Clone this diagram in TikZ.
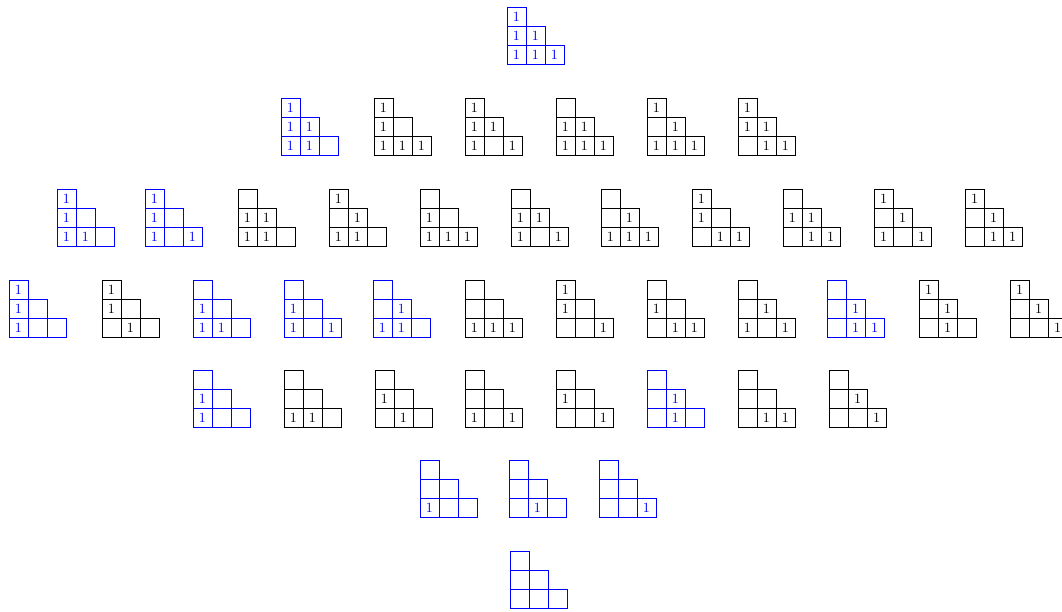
\documentclass[tikz,border=0pt]{standalone}
\usepackage{tikz}
\definecolor{hiblue}{RGB}{0,0,255}
\tikzset{cell/.style={draw, minimum size=0.475cm, inner sep=0pt, line width=0.6pt, font=\normalsize}}

% staircase tableau: left, top, colour, then the six entries (top, middle, bottom rows)
\newcommand{\staircase}[9]{%
  \node[cell, draw=#3, text=#3] at (#1+9.5, #2+9.5) {#4};
  \node[cell, draw=#3, text=#3] at (#1+9.5, #2+28.5) {#5};
  \node[cell, draw=#3, text=#3] at (#1+28.5, #2+28.5) {#6};
  \node[cell, draw=#3, text=#3] at (#1+9.5, #2+47.5) {#7};
  \node[cell, draw=#3, text=#3] at (#1+28.5, #2+47.5) {#8};
  \node[cell, draw=#3, text=#3] at (#1+47.5, #2+47.5) {#9};
}

\begin{document}
\begin{tikzpicture}[x=0.025cm, y=-0.025cm]
  \clip (0,0) rectangle (1062,611);

  % Row 0
  \staircase{507}{7.5}{hiblue}{1}{1}{1}{1}{1}{1}

  % Row 1
  \staircase{281}{98}{hiblue}{1}{1}{1}{1}{1}{}
  \staircase{374}{98}{black}{1}{1}{}{1}{1}{1}
  \staircase{465}{98}{black}{1}{1}{1}{1}{}{1}
  \staircase{556}{98}{black}{}{1}{1}{1}{1}{1}
  \staircase{647}{98}{black}{1}{}{1}{1}{1}{1}
  \staircase{738}{98}{black}{1}{1}{1}{}{1}{1}

  % Row 2
  \staircase{57}{189}{hiblue}{1}{1}{}{1}{1}{}
  \staircase{145}{189}{hiblue}{1}{1}{}{1}{}{1}
  \staircase{238}{189}{black}{}{1}{1}{1}{1}{}
  \staircase{329}{189}{black}{1}{}{1}{1}{1}{}
  \staircase{420}{189}{black}{}{1}{}{1}{1}{1}
  \staircase{511}{189}{black}{}{1}{1}{1}{}{1}
  \staircase{601}{189}{black}{}{}{1}{1}{1}{1}
  \staircase{692}{189}{black}{1}{1}{}{}{1}{1}
  \staircase{783}{189}{black}{}{1}{1}{}{1}{1}
  \staircase{874}{189}{black}{1}{}{1}{1}{}{1}
  \staircase{965}{189}{black}{1}{}{1}{}{1}{1}

  % Row 3
  \staircase{9}{280}{hiblue}{1}{1}{}{1}{}{}
  \staircase{102}{280}{black}{1}{1}{}{}{1}{}
  \staircase{193}{280}{hiblue}{}{1}{}{1}{1}{}
  \staircase{284}{280}{hiblue}{}{1}{}{1}{}{1}
  \staircase{373}{280}{hiblue}{}{}{1}{1}{1}{}
  \staircase{465}{280}{black}{}{}{}{1}{1}{1}
  \staircase{556}{280}{black}{1}{1}{}{}{}{1}
  \staircase{647}{280}{black}{}{1}{}{}{1}{1}
  \staircase{738}{280}{black}{}{}{1}{1}{}{1}
  \staircase{827}{280}{hiblue}{}{}{1}{}{1}{1}
  \staircase{919}{280}{black}{1}{}{1}{}{1}{}
  \staircase{1010}{280}{black}{1}{}{1}{}{}{1}

  % Row 4
  \staircase{193}{370}{hiblue}{}{1}{}{1}{}{}
  \staircase{284}{370}{black}{}{}{}{1}{1}{}
  \staircase{375}{370}{black}{}{1}{}{}{1}{}
  \staircase{465}{370}{black}{}{}{}{1}{}{1}
  \staircase{556}{370}{black}{}{1}{}{}{}{1}
  \staircase{647}{370}{hiblue}{}{}{1}{}{1}{}
  \staircase{738}{370}{black}{}{}{}{}{1}{1}
  \staircase{829}{370}{black}{}{}{1}{}{}{1}

  % Row 5
  \staircase{420}{460}{hiblue}{}{}{}{1}{}{}
  \staircase{509}{460}{hiblue}{}{}{}{}{1}{}
  \staircase{599}{460}{hiblue}{}{}{}{}{}{1}

  % Row 6
  \staircase{510}{551.5}{hiblue}{}{}{}{}{}{}
\end{tikzpicture}
\end{document}
